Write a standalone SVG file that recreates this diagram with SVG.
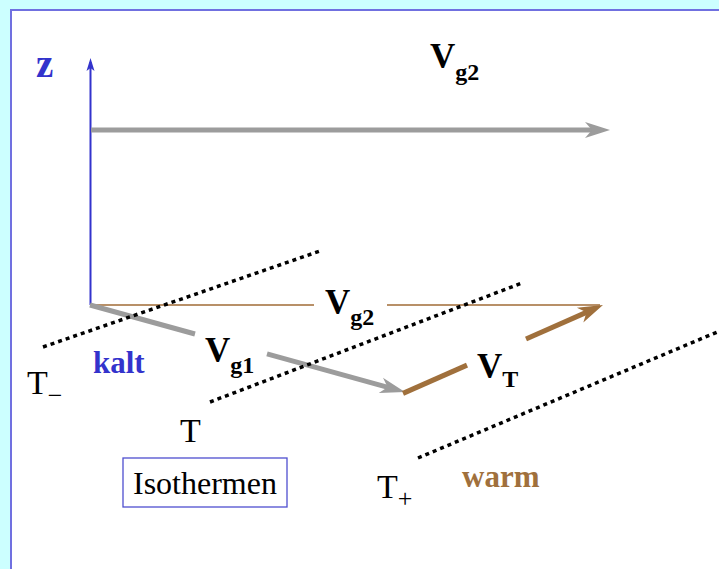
<svg xmlns="http://www.w3.org/2000/svg" width="719" height="569" viewBox="0 0 719 569">
  <defs>
    <marker id="hGray" markerUnits="userSpaceOnUse" markerWidth="30" markerHeight="20" viewBox="0 -10 30 20" refX="13" refY="0" orient="auto">
      <path d="M0,-8 L25,0 L0,8 L7,0 Z" fill="#9c9c9c"/>
    </marker>
    <marker id="hBrown" markerUnits="userSpaceOnUse" markerWidth="30" markerHeight="20" viewBox="0 -10 30 20" refX="13" refY="0" orient="auto">
      <path d="M0,-8 L25,0 L0,8 L7,0 Z" fill="#a0703c"/>
    </marker>
    <marker id="hBlue" markerUnits="userSpaceOnUse" markerWidth="16" markerHeight="10" viewBox="0 -5 16 10" refX="9" refY="0" orient="auto">
      <path d="M0,-4 L13,0 L0,4 L3,0 Z" fill="#3333cc"/>
    </marker>
  </defs>
  <style>
    text { font-family: "Liberation Serif", "DejaVu Serif", serif; }
    .bold { font-weight: bold; }
    .gray { stroke: #9c9c9c; stroke-width: 5; fill: none; }
    .brown { stroke: #a0703c; stroke-width: 5; fill: none; }
    .thin { stroke: #b89068; stroke-width: 2; fill: none; }
    .iso { stroke: #000; stroke-width: 3.5; stroke-dasharray: 4 4; fill: none; }
    .blue { fill: #3333cc; }
    .brn { fill: #a0703c; }
    .blk { fill: #000; }
  </style>

  <rect x="0" y="0" width="719" height="569" fill="#ccffff"/>
  <rect x="11" y="10" width="720" height="570" fill="#ffffff" stroke="#7070e0" stroke-width="2"/>

  <g id="connectors">
    <line id="z-axis" x1="90.5" y1="305" x2="90.5" y2="62" stroke="#3333cc" stroke-width="2" marker-end="url(#hBlue)"/>
    <line id="vg2-top" class="gray" x1="91" y1="130" x2="598" y2="130" marker-end="url(#hGray)"/>
    <line class="thin" x1="90" y1="305" x2="314" y2="305"/>
    <line class="thin" x1="387" y1="305" x2="600" y2="305"/>
    <line class="gray" x1="90" y1="305" x2="195" y2="334"/>
    <line class="gray" x1="267" y1="353.9" x2="393.4" y2="388.8" marker-end="url(#hGray)"/>
    <line class="brown" x1="403" y1="393.4" x2="467" y2="365.1"/>
    <line class="brown" x1="526" y1="339" x2="592" y2="309.9" marker-end="url(#hBrown)"/>
    <line class="iso" x1="43" y1="347" x2="320" y2="251"/>
    <line class="iso" x1="210" y1="402" x2="522" y2="283"/>
    <line class="iso" x1="418" y1="458" x2="722" y2="330"/>
  </g>

  <g id="label-z">
    <text class="bold blue" x="36" y="77" font-size="39">z</text>
  </g>
  <g id="label-vg2-top">
    <text class="bold blk" x="430" y="68" font-size="35">V<tspan font-size="24" dy="12">g2</tspan></text>
  </g>
  <g id="label-vg2-mid">
    <text class="bold blk" x="325" y="314" font-size="35">V<tspan font-size="24" dy="11">g2</tspan></text>
  </g>
  <g id="label-vg1">
    <text class="bold blk" x="205" y="362" font-size="35">V<tspan font-size="24" dy="11">g1</tspan></text>
  </g>
  <g id="label-vt">
    <text class="bold blk" x="477" y="378" font-size="35">V<tspan font-size="24" dy="9">T</tspan></text>
  </g>
  <g id="label-kalt">
    <text class="bold blue" x="93" y="373" font-size="31">kalt</text>
  </g>
  <g id="label-warm">
    <text class="bold brn" x="462" y="487" font-size="31">warm</text>
  </g>
  <g id="label-tminus">
    <text class="blk" x="27" y="394" font-size="34" font-family="Liberation Serif, serif">T<tspan font-size="26" dy="10">−</tspan></text>
  </g>
  <g id="label-t">
    <text class="blk" x="180" y="442" font-size="34" font-family="Liberation Serif, serif">T</text>
  </g>
  <g id="label-tplus">
    <text class="blk" x="377" y="498" font-size="34" font-family="Liberation Serif, serif">T<tspan font-size="26" dy="9">+</tspan></text>
  </g>
  <g id="isothermen">
    <rect x="123" y="458" width="164" height="49" fill="#ffffff" stroke="#4f4fcf" stroke-width="1.3"/>
    <text class="blk" x="133" y="494" font-size="32" font-family="Liberation Serif, serif">Isothermen</text>
  </g>
</svg>
